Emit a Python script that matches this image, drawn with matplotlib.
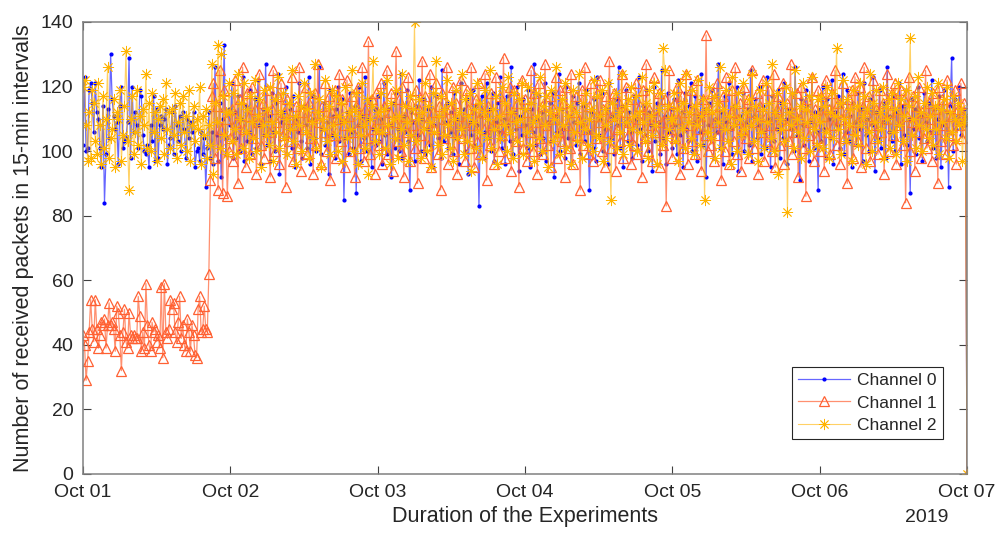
import matplotlib.pyplot as plt
import matplotlib.dates as mdates
import numpy as np
import pandas as pd

plt.rcParams['font.family'] = ['Liberation Sans', 'DejaVu Sans']

## paquetes recibidos cada 15 min, 6 dias de medicion (el ultimo punto es el corte)
ch0 = [
    102,123,100,101,119,121,115,106,121,112,110,101,95,114,84,99,113,104,130,116,111,107,109,96,
    114,120,101,103,104,109,129,98,120,106,112,108,101,119,117,105,100,99,102,95,108,103,117,97,
    113,98,108,111,107,110,113,96,102,104,112,99,114,108,103,111,100,112,107,98,110,104,109,106,
    112,95,100,101,97,106,99,104,89,101,112,98,106,96,126,105,97,115,92,110,133,99,104,113,
    108,121,98,112,104,117,100,110,123,97,114,103,106,119,99,109,116,101,122,108,96,113,105,127,
    102,111,97,118,106,100,115,124,93,109,112,104,120,99,107,113,101,117,95,110,106,121,103,98,
    114,108,101,123,96,110,117,104,100,112,126,99,107,115,102,109,93,119,105,111,98,113,120,103,
    109,116,85,104,112,99,118,106,101,114,87,108,120,97,111,104,123,100,110,116,95,107,113,102,
    117,103,110,96,121,105,99,113,108,92,115,101,118,107,100,124,98,111,106,119,103,88,112,109,
    97,114,105,122,100,110,116,99,107,113,102,120,95,108,117,104,111,98,125,103,109,115,101,106,
    112,99,118,104,110,96,121,107,113,100,116,93,109,105,119,102,114,108,83,111,117,98,106,121,
    104,113,100,118,97,109,115,106,123,101,110,96,117,108,103,126,99,112,107,120,94,111,105,116,
    108,101,119,95,113,106,127,102,110,117,99,112,104,121,97,109,115,103,118,92,111,106,124,100,
    113,107,98,120,104,111,96,117,109,102,115,121,99,108,114,103,119,106,88,112,101,116,97,123,
    105,110,118,100,107,113,96,121,104,111,99,116,108,126,101,114,95,109,119,103,112,106,98,117,
    110,102,123,107,97,114,105,119,100,112,108,94,120,103,115,109,99,125,104,111,96,118,106,113,
    101,116,108,99,122,105,112,95,118,107,103,114,121,100,109,117,97,111,106,124,102,113,92,108,
    115,104,119,98,110,106,127,101,112,96,117,109,103,121,107,99,114,108,120,94,111,105,118,100,
    109,113,102,125,97,111,116,104,108,120,99,114,106,101,123,110,95,117,103,112,107,119,98,115,
    104,121,110,96,113,107,118,100,126,105,111,91,116,108,102,119,114,97,109,123,101,112,106,88,
    113,103,120,107,98,116,110,104,122,96,112,108,117,101,114,124,99,106,119,103,111,95,115,109,
    102,118,107,113,97,121,105,110,100,116,108,123,94,112,104,119,101,109,115,98,126,106,111,103,
    117,100,112,108,121,96,114,105,119,102,110,87,116,107,113,99,120,104,111,97,118,109,103,115,
    106,122,101,113,98,110,117,95,108,119,104,112,89,114,129,100,116,107,111,120,105,109,113,108,
    0]

ch1 = [
    43,40,29,35,44,54,45,41,54,45,39,43,47,46,48,39,46,53,46,47,45,38,52,50,
    43,32,44,51,41,39,50,43,42,43,42,42,55,49,38,44,39,59,46,40,38,47,44,45,
    41,43,39,58,36,59,44,42,45,54,51,53,44,41,47,55,42,46,40,38,48,44,38,46,
    43,37,36,51,55,44,45,52,45,44,62,91,117,121,98,114,88,125,107,87,119,110,86,100,
    104,113,97,122,109,90,116,101,126,107,95,118,111,99,120,104,113,93,109,124,102,115,98,111,
    119,106,92,113,125,100,109,117,96,121,105,112,89,116,103,110,123,97,108,114,101,126,94,112,
    107,120,99,115,104,111,93,118,102,127,109,96,114,106,121,100,117,91,112,105,119,98,110,124,
    103,116,108,95,122,111,100,117,106,92,114,120,101,109,126,97,113,104,134,99,116,107,93,118,
    110,102,121,96,114,107,125,99,112,118,94,109,131,103,116,100,120,92,111,106,123,97,115,108,
    101,119,90,113,105,128,98,117,109,102,124,95,112,107,121,99,114,88,118,104,110,126,96,113,
    106,120,100,115,93,111,122,104,109,97,119,113,101,126,108,95,116,103,121,99,112,107,124,91,
    114,102,118,108,96,123,110,100,117,105,129,98,113,107,120,94,111,119,103,115,89,109,122,101,
    116,97,112,106,125,100,118,109,93,121,104,114,99,127,108,102,117,95,113,110,123,98,106,119,
    103,115,92,120,108,101,124,96,112,117,105,110,88,119,102,126,107,99,114,121,97,111,104,118,
    109,122,100,113,95,117,106,128,101,111,118,94,107,115,103,124,98,112,120,105,109,96,116,102,
    121,99,110,114,92,119,104,127,100,113,108,97,123,106,111,118,95,109,102,116,83,112,125,107,
    98,115,104,120,110,93,117,101,112,124,96,108,119,103,113,99,122,107,111,94,116,105,136,100,
    113,102,118,97,109,121,105,114,91,117,100,123,108,96,112,119,103,126,99,110,115,94,107,120,
    104,116,98,112,125,101,109,118,93,114,106,122,97,111,103,119,108,100,124,95,113,117,102,110,
    121,96,108,115,103,127,99,112,106,118,92,110,120,101,114,86,116,105,109,123,97,113,104,119,
    100,117,111,94,122,106,113,99,118,108,125,102,115,96,110,121,104,112,90,116,107,119,98,123,
    109,103,120,95,114,126,101,111,117,97,108,122,104,113,99,119,106,115,93,110,124,100,112,118,
    105,121,96,113,108,119,102,116,84,111,123,100,109,117,94,114,106,120,98,112,104,125,101,115,
    110,97,118,107,113,90,120,103,116,108,99,122,105,114,111,102,119,96,113,108,121,104,115,110,
    0]

ch2 = [
    120,122,108,97,112,98,119,115,103,99,121,108,96,117,101,110,126,98,104,107,116,95,112,110,
    119,97,105,114,131,103,88,110,117,99,106,119,102,111,96,113,108,124,101,115,100,118,106,112,
    97,110,114,104,116,99,121,107,112,101,113,105,118,98,109,115,102,117,106,111,100,119,97,108,
    114,103,110,107,120,96,111,105,113,98,108,102,127,93,115,109,133,101,130,117,105,112,99,121,
    112,103,118,107,99,124,110,115,101,121,106,113,98,117,109,104,122,100,111,116,95,108,119,105,
    113,102,120,109,97,116,106,123,101,112,118,104,110,99,115,107,125,103,111,96,117,108,114,100,
    121,106,113,98,118,109,104,127,101,112,116,95,110,107,122,103,114,99,119,108,105,117,100,111,
    115,97,109,120,104,112,107,125,100,113,118,96,111,105,121,108,101,116,93,110,114,128,103,107,
    112,99,118,106,113,101,122,108,96,115,110,104,119,98,111,107,124,102,114,109,97,117,105,113,
    140,103,110,116,98,112,107,121,100,114,109,95,118,106,128,102,111,117,99,113,105,122,108,101,
    115,97,110,119,104,112,107,124,99,116,103,111,118,94,109,113,101,121,106,115,98,112,119,104,
    110,125,101,113,107,117,96,111,104,120,108,115,100,123,106,112,98,118,109,103,116,110,121,99,
    113,106,120,102,115,109,97,118,111,104,123,100,114,108,117,95,112,119,103,110,126,105,113,99,
    116,108,121,101,111,114,96,119,106,112,103,124,109,98,115,107,118,102,110,113,100,122,105,117,
    104,111,119,97,113,108,121,103,85,115,110,118,101,112,106,124,99,114,109,116,102,120,107,111,
    117,100,112,106,123,109,103,115,98,119,111,105,121,108,96,113,118,102,132,125,104,114,107,110,
    110,118,103,113,97,121,107,115,101,124,109,112,104,119,99,114,108,122,102,111,116,85,113,106,
    120,104,112,117,98,115,109,126,101,113,107,119,103,111,96,123,108,114,100,118,110,105,121,107,
    112,99,116,108,124,103,114,110,97,119,106,113,101,121,109,115,104,127,100,112,118,93,110,107,
    115,103,120,81,112,108,118,101,125,110,106,114,98,121,104,113,109,117,100,123,107,111,102,116,
    109,117,101,114,106,120,98,112,118,104,111,132,107,115,99,122,110,103,116,108,113,97,119,105,
    114,102,121,108,111,117,96,113,106,124,100,115,109,119,103,112,107,120,98,114,110,116,101,118,
    106,113,99,121,108,116,103,111,119,97,114,135,105,110,117,101,123,108,112,100,115,107,120,104,
    111,118,102,114,107,121,99,113,109,116,104,120,98,112,106,117,110,103,115,108,113,97,109,111,
    0]

labels = ['Channel 0', 'Channel 1', 'Channel 2']
fin = pd.Timestamp('2019-10-07 00:00')


def tiempos(serie):
    # cada muestra es un intervalo de 15 min, la ultima cae justo en el corte
    return pd.date_range(end=fin, periods=len(serie), freq='15min')


gris = '#262626'
fig = plt.figure(figsize=(10, 5.39), dpi=100)
ax = fig.add_axes([0.083, 0.1206, 0.884, 0.8386])

azul = (0, 0, 1)
rojo = (1, 0.38, 0.2)
amarillo = (1, 0.7, 0)
asterisco = (8, 2, 0)  # como el '*' de matlab: + y x juntos

ax.plot(tiempos(ch0), ch0, '-', marker='.', color=azul + (0.6,), markeredgecolor=azul,
        markerfacecolor=azul, markersize=4, lw=0.9, label=labels[0])
ax.plot(tiempos(ch1), ch1, '-', marker='^', color=rojo + (0.7,), markeredgecolor=rojo,
        markerfacecolor='none', markersize=7, mew=0.9, lw=0.9, label=labels[1])
ax.plot(tiempos(ch2), ch2, '-', marker=asterisco, color=amarillo + (0.6,), markeredgecolor=amarillo,
        markerfacecolor='none', markersize=8, mew=0.6, lw=0.8, label=labels[2])

ax.set_xlim(pd.Timestamp('2019-10-01'), fin)
ax.set_ylim(0, 140)
ax.set_yticks(np.arange(0, 141, 20))
ax.xaxis.set_major_locator(mdates.DayLocator())
ax.xaxis.set_major_formatter(mdates.DateFormatter('%b %d'))

for s in ax.spines.values():
    s.set_color('#808080')
    s.set_linewidth(1.1)
ax.tick_params(direction='in', length=6, width=0.8, color='#404040', labelsize=14,
               labelcolor=gris, top=True, right=True)
ax.tick_params(axis='x', pad=7)
ax.tick_params(axis='y', pad=7)

ax.set_xlabel('Duration of the Experiments', fontsize=15.5, color=gris, labelpad=4)
ax.set_ylabel('Number of received packets in 15-min intervals', fontsize=15.5, color=gris, labelpad=5)
fig.text(0.927, 0.025, '2019', fontsize=14, color=gris, ha='center', va='bottom')

leg = ax.legend(loc='upper right', bbox_to_anchor=(0.973, 0.237), fontsize=12.5,
                fancybox=False, framealpha=1, edgecolor='#262626', borderpad=0.35,
                handlelength=3.0, labelspacing=0.42, handletextpad=0.4, borderaxespad=0)
leg.get_frame().set_linewidth(0.8)
for t in leg.get_texts():
    t.set_color(gris)

fig.savefig('out.png', dpi=100)
